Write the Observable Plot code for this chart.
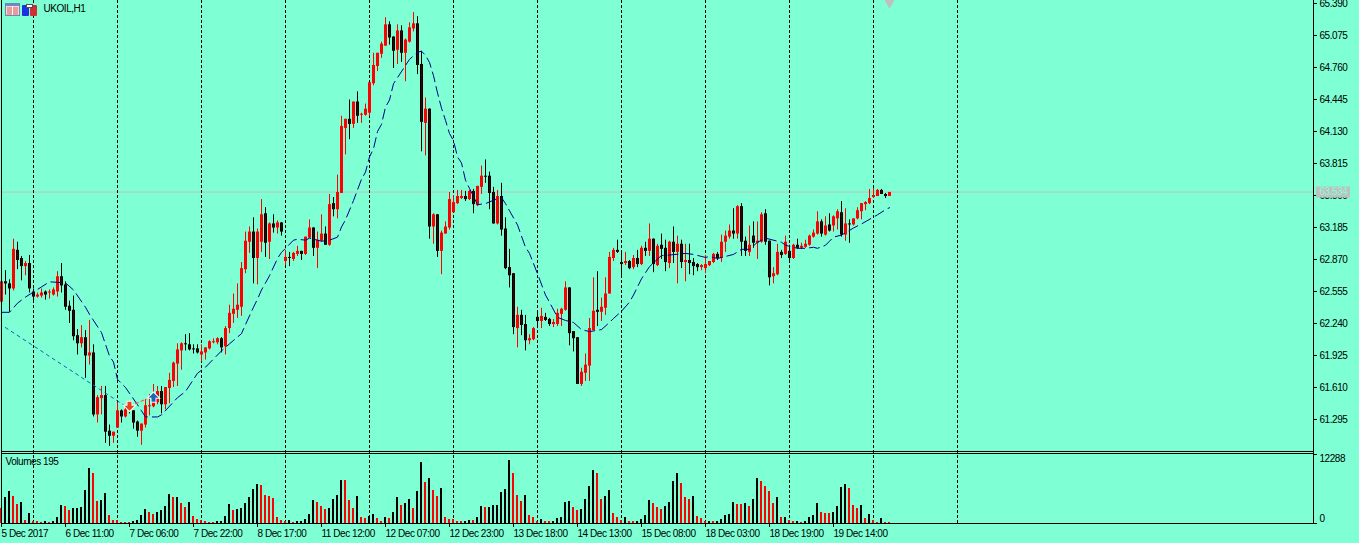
<!DOCTYPE html>
<html>
<head>
<meta charset="utf-8">
<script src="https://cdn.jsdelivr.net/npm/d3@7"></script>
<script src="https://cdn.jsdelivr.net/npm/@observablehq/plot@0.6"></script>
<style>
html,body{margin:0;padding:0;background:#7FFFD4;width:1359px;height:543px;overflow:hidden;position:relative}
svg{display:block}
#icons{position:absolute;left:5px;top:3px}
</style>
</head>
<body>
<div id="chart"></div>
<svg id="icons" width="33" height="13" viewBox="0 0 33 13">
  <rect x="0.5" y="0.5" width="14" height="12" fill="#f4d8d8" stroke="#7088b0"/>
  <rect x="1" y="1" width="13" height="2" fill="#7088c8"/>
  <path d="M2 5h11M2 7h11M2 9h11M2 11h11" stroke="#e06060"/>
  <path d="M7.5 3v9" stroke="#fff"/>
  <rect x="17" y="2" width="7" height="11" rx="1" fill="#2030e0"/>
  <rect x="25" y="2" width="7" height="11" rx="1" fill="#d03030"/>
  <rect x="21.5" y="1.5" width="6" height="3" fill="#fff" stroke="#505050"/>
</svg>
<script>
const opens = [
62.45,62.65,62.63,62.58,62.96,62.88,62.80,62.83,62.55,62.50,
62.51,62.55,62.54,62.52,62.55,62.70,62.62,62.41,62.37,62.12,
62.04,62.10,61.92,61.95,61.34,61.50,61.53,61.18,61.13,61.21,
61.38,61.32,61.39,61.38,61.27,61.18,61.24,61.42,61.42,61.46,
61.57,61.44,61.60,61.67,61.84,61.97,62.04,62.03,61.99,61.99,
61.93,61.95,61.99,62.05,62.05,62.09,62.01,62.19,62.33,62.37,
62.40,62.77,63.04,63.14,62.88,63.04,63.32,63.04,63.22,63.18,
63.23,62.85,62.89,62.87,62.92,62.95,62.92,63.08,63.18,62.98,
63.05,63.12,63.01,63.42,63.36,63.52,64.16,64.25,64.20,64.42,
64.29,64.29,64.31,64.60,64.77,64.89,64.97,65.18,65.06,64.93,
65.12,64.90,65.01,65.14,65.19,64.79,64.21,64.35,63.19,63.31,
62.95,63.12,63.18,63.33,63.42,63.47,63.49,63.46,63.54,63.40,
63.58,63.69,63.69,63.53,63.22,63.49,63.17,62.79,62.73,62.19,
62.32,62.23,62.07,62.08,62.30,62.26,62.30,62.28,62.23,62.23,
62.33,62.37,62.59,62.16,62.10,61.64,61.75,61.82,62.17,62.37,
62.35,62.39,62.53,62.88,62.96,62.84,62.83,62.85,62.79,62.88,
62.82,62.98,62.95,63.07,62.81,63.01,62.98,62.83,63.04,62.94,
63.02,62.84,62.86,62.84,62.82,62.79,62.78,62.81,62.84,62.92,
62.88,63.04,63.09,63.15,63.12,63.39,63.05,62.94,63.10,63.03,
63.04,63.32,63.05,62.70,62.72,62.94,62.92,62.95,62.88,63.01,
62.98,62.99,63.01,63.09,63.12,63.24,63.11,63.21,63.20,63.27,
63.33,63.11,63.22,63.21,63.27,63.34,63.41,63.42,63.48,63.49,
63.55,63.51,63.49];
const highs = [
62.65,62.76,62.67,63.07,63.04,62.90,62.85,62.91,62.58,62.54,
62.58,62.56,62.57,62.59,62.75,62.83,62.65,62.46,62.51,62.18,
62.22,62.17,62.27,62.03,61.53,61.62,61.62,61.24,61.17,61.46,
61.39,61.42,61.40,61.38,61.28,61.25,61.49,61.54,61.64,61.62,
61.62,61.61,61.75,61.86,62.04,62.05,62.13,62.14,62.03,62.03,
62.03,62.00,62.07,62.09,62.10,62.10,62.21,62.42,62.53,62.63,
62.84,63.14,63.19,63.28,63.17,63.46,63.38,63.23,63.31,63.25,
63.23,62.96,62.94,62.94,63.00,62.95,63.09,63.26,63.18,63.14,
63.31,63.19,63.51,63.48,63.70,64.28,64.25,64.44,64.42,64.52,
64.31,64.40,64.61,64.90,64.90,65.01,65.25,65.21,65.06,65.18,
65.17,65.04,65.20,65.30,65.26,64.92,64.46,64.35,63.32,63.31,
63.15,63.24,63.53,63.50,63.55,63.55,63.54,63.55,63.56,63.59,
63.79,63.85,63.73,63.58,63.55,63.62,63.28,62.97,62.73,62.40,
62.37,62.32,62.13,62.20,62.36,62.39,62.34,62.29,62.28,62.38,
62.39,62.65,62.59,62.16,62.10,61.80,61.94,62.29,62.69,62.75,
62.49,62.69,62.94,62.98,63.06,62.95,62.94,62.86,62.91,62.96,
63.00,63.04,63.22,63.07,63.02,63.12,63.06,63.05,63.19,63.10,
63.06,63.02,63.02,62.88,62.83,62.82,62.91,62.85,62.93,62.94,
63.11,63.15,63.21,63.37,63.40,63.42,63.09,63.20,63.24,63.24,
63.33,63.36,63.05,62.79,63.02,62.96,63.10,63.01,63.02,63.07,
63.03,63.06,63.11,63.16,63.34,63.26,63.29,63.32,63.30,63.36,
63.44,63.37,63.26,63.27,63.38,63.42,63.44,63.56,63.57,63.56,
63.56,63.52,63.53];
const lows = [
62.45,62.52,62.35,62.56,62.77,62.66,62.71,62.54,62.45,62.49,
62.49,62.47,62.48,62.51,62.50,62.54,62.37,62.24,62.07,61.93,
62.00,61.70,61.83,61.32,61.26,61.34,61.06,61.03,61.06,61.21,
61.26,61.31,61.35,61.20,61.12,61.04,61.21,61.33,61.41,61.44,
61.35,61.39,61.45,61.61,61.62,61.78,61.97,61.97,61.94,61.94,
61.86,61.88,61.98,62.04,62.03,61.95,61.93,62.14,62.24,62.29,
62.31,62.73,62.93,62.63,62.62,62.94,62.89,62.87,63.13,63.12,
63.10,62.81,62.80,62.85,62.90,62.86,62.91,63.08,62.90,62.78,
63.04,63.01,63.00,63.29,63.27,63.52,63.90,64.05,64.16,64.21,
64.21,64.28,64.28,64.58,64.72,64.85,64.97,64.98,64.75,64.79,
64.81,64.62,65.00,65.11,64.69,63.93,63.89,63.07,63.02,62.89,
62.72,63.12,63.16,63.33,63.41,63.46,63.44,63.45,63.32,63.39,
63.51,63.62,63.36,63.22,63.21,63.10,62.77,62.59,62.13,62.00,
62.12,61.97,62.03,62.07,62.19,62.19,62.26,62.21,62.20,62.21,
62.21,62.36,62.02,61.96,61.64,61.62,61.67,61.67,62.17,62.21,
62.26,62.32,62.53,62.85,62.93,62.70,62.81,62.77,62.77,62.79,
62.81,62.90,62.90,62.74,62.80,62.87,62.75,62.78,62.83,62.63,
62.78,62.65,62.72,62.71,62.75,62.76,62.73,62.80,62.83,62.86,
62.84,62.94,63.07,63.07,63.07,62.90,62.90,62.90,62.98,62.87,
63.03,63.01,62.61,62.63,62.71,62.88,62.91,62.84,62.87,62.97,
62.97,62.98,63.00,63.08,63.11,63.09,63.10,63.14,63.14,63.16,
63.09,63.05,63.03,63.20,63.26,63.26,63.35,63.41,63.47,63.49,
63.51,63.47,63.49];
const closes = [
62.65,62.63,62.58,62.97,62.86,62.80,62.83,62.58,62.50,62.52,
62.54,62.52,62.55,62.57,62.70,62.61,62.40,62.36,62.11,62.04,
62.10,61.92,61.95,61.34,61.51,61.53,61.17,61.13,61.17,61.38,
61.32,61.39,61.38,61.26,61.18,61.25,61.43,61.43,61.47,61.57,
61.44,61.61,61.68,61.85,61.98,62.04,62.03,61.98,61.98,61.95,
61.96,62.00,62.06,62.06,62.09,62.00,62.19,62.34,62.38,62.42,
62.78,63.05,63.14,62.88,63.14,63.31,63.03,63.22,63.18,63.23,
63.14,62.89,62.88,62.93,62.95,62.92,63.09,63.18,62.98,63.06,
63.12,63.01,63.41,63.36,63.53,64.18,64.25,64.20,64.42,64.28,
64.30,64.35,64.61,64.78,64.90,64.99,65.18,65.05,64.92,65.12,
64.90,65.03,65.15,65.19,64.78,64.22,64.35,63.19,63.31,62.95,
63.13,63.19,63.46,63.43,63.49,63.49,63.46,63.54,63.41,63.59,
63.69,63.68,63.52,63.22,63.49,63.16,62.78,62.71,62.20,62.32,
62.22,62.07,62.09,62.19,62.26,62.31,62.27,62.23,62.25,62.34,
62.38,62.59,62.14,62.09,61.64,61.76,61.83,62.19,62.36,62.35,
62.40,62.53,62.89,62.96,62.94,62.82,62.85,62.78,62.88,62.82,
62.98,62.95,63.07,62.82,63.00,62.97,62.84,63.04,62.94,63.02,
62.84,62.86,62.83,62.80,62.79,62.81,62.82,62.85,62.92,62.88,
63.04,63.10,63.15,63.12,63.39,63.04,62.95,63.01,63.03,63.05,
63.31,63.04,62.69,62.73,62.94,62.91,63.04,62.88,63.01,62.98,
63.00,63.02,63.10,63.13,63.24,63.12,63.20,63.15,63.29,63.34,
63.11,63.22,63.21,63.27,63.35,63.42,63.43,63.47,63.50,63.55,
63.51,63.49,63.53];
const volume = [
2925,5070,6240,5265,3705,4095,585,1950,390,380,
195,390,195,390,1170,3510,3315,2535,2925,2935,
3120,6435,10725,9750,4290,4485,5850,1560,585,575,
195,185,175,390,585,1560,2730,2145,1755,2145,
2535,3315,5655,5070,5080,3900,3120,4095,1365,780,
585,390,195,190,390,395,1365,3705,2535,2730,
2925,3900,5070,6630,7605,7410,5460,5265,4875,1170,
585,390,585,195,390,395,780,1755,4485,4095,
3315,2730,2925,4680,5460,8385,8380,4485,2925,5265,
1170,975,1365,1755,975,390,1170,975,2145,5070,
3510,3900,4680,2925,6240,11895,7995,8775,6435,5265,
6825,1170,780,775,390,385,390,585,580,1170,
3315,3120,3125,3510,3515,6045,6630,12288,9750,5460,
4290,5460,1560,1170,390,780,390,385,390,975,
1170,4095,4290,3120,2535,2730,4680,7215,10335,9750,
4680,5265,6435,1950,1170,585,1170,390,385,390,
780,1560,4485,3900,3120,2730,3315,4095,8190,9750,
7800,5070,4680,5265,1365,975,390,395,390,395,
780,1560,1755,4095,3705,3700,3900,3315,4680,8775,
8190,7215,6240,3900,5070,1170,1175,585,390,395,
195,390,1170,1560,3900,2145,1950,1945,2145,3315,
7020,7605,6825,3510,2925,3510,975,1755,585,195,
975,195,195];
const maBar = [0,2,4,6,10,12,16,18,21,22,25,27,28,29,31,34,35,36,39,40,44,46,49,51,55,57,60,61,63,64,65,66,67,69,70,73,74,76,77,80,82,84,85,86,88,90,91,92,93,94,95,96,97,98,99,102,104,105,106,107,108,109,110,111,112,113,114,115,116,117,119,121,124,125,126,127,129,131,132,134,136,137,139,141,143,145,147,150,152,153,155,157,158,160,161,162,165,166,171,173,176,177,179,181,183,185,187,189,191,195,196,199,201,203,204,206,207,208,210,213,215,219,221,222];
const maValue = [62.35,62.35,62.44,62.50,62.60,62.65,62.64,62.57,62.40,62.33,62.15,61.92,61.86,61.69,61.61,61.44,61.38,61.32,61.32,61.34,61.51,61.57,61.75,61.81,61.97,62.04,62.14,62.23,62.40,62.48,62.57,62.64,62.71,62.88,62.94,63.06,63.07,63.06,63.08,63.05,63.06,63.09,63.19,63.26,63.45,63.66,63.73,63.88,63.96,64.13,64.20,64.37,64.44,64.60,64.66,64.84,64.91,64.92,64.88,64.81,64.68,64.51,64.36,64.24,64.11,64.04,63.88,63.82,63.65,63.57,63.41,63.42,63.47,63.48,63.42,63.35,63.21,62.99,62.93,62.73,62.52,62.45,62.30,62.27,62.25,62.18,62.16,62.18,62.25,62.29,62.36,62.45,62.52,62.68,62.74,62.80,62.91,62.91,62.93,62.92,62.89,62.90,62.88,62.90,62.92,62.97,62.97,63.04,63.08,63.04,63.01,62.98,62.98,62.99,62.98,63.01,63.05,63.09,63.11,63.18,63.22,63.31,63.36,63.38];
const gridBars = [8,29,50,71,92,113,134,155,176,197,218,239];
const priceTicks = [65.390,65.075,64.760,64.445,64.130,63.815,63.500,63.185,62.870,62.555,62.240,61.925,61.610,61.295];
const timeBars = [0,16,32,48,64,80,96,112,128,144,160,176,192,208];
const timeLabels = ["5 Dec 2017","6 Dec 11:00","7 Dec 06:00","7 Dec 22:00","8 Dec 17:00","11 Dec 12:00","12 Dec 07:00","12 Dec 23:00","13 Dec 18:00","14 Dec 13:00","15 Dec 08:00","18 Dec 03:00","18 Dec 19:00","19 Dec 14:00"];
const bid = 63.534;
const buyTrend = [{bar:1,price:62.20},{bar:32,price:61.40}];
const sellTrend = [{bar:33.5,price:61.45},{bar:37,price:61.51}];
const sellArrow = [{bar:32,price:61.43}];
const buyArrow = [{bar:38,price:61.51}];
const marker = [{bar:222,price:65.42}];

if ([opens,highs,lows,closes,volume].some(a => a.length !== 223) || maBar.length !== maValue.length) throw new Error("length mismatch " + [opens,highs,lows,closes,volume,maBar,maValue].map(a=>a.length));

const candles = opens.map((o,i) => ({bar:i, open:o, high:highs[i], low:lows[i], close:closes[i]}));
const bulls = candles.filter(d => d.close >= d.open);
const bears = candles.filter(d => d.close < d.open);
const ma = maBar.map((b,i) => ({bar:b, value:maValue[i]}));
const vols = volume.map((v,i) => ({bar:i, v, rising: i>0 && v>volume[i-1]}));

const FONT = "'Liberation Sans', Arial, sans-serif";
const AQUA = "#7FFFD4", RED = "#ff0000", BLACK = "#000000", NAVY = "#00008b", GREY = "#c0c0c0";
const paneStyle = {background:"transparent", fontFamily:FONT, fontSize:"10px", letterSpacing:"-0.45px", color:BLACK};
const xScale = {domain:[0,328], range:[1,1313]};
const dash = {stroke:BLACK, strokeDasharray:"3,2", strokeWidth:1};
const arrow = {
  draw(ctx){
    ctx.moveTo(0,-5); ctx.lineTo(5,0); ctx.lineTo(2,0); ctx.lineTo(2,4);
    ctx.lineTo(-2,4); ctx.lineTo(-2,0); ctx.lineTo(-5,0); ctx.closePath();
  }
};

const pricePane = Plot.plot({
  width:1359, height:452, marginTop:0, marginBottom:0, marginLeft:1, marginRight:46,
  style:paneStyle,
  x:{...xScale, axis:null},
  y:{domain:[60.97,65.4195], range:[452,0], axis:null},
  marks:[
    Plot.ruleY([bid], {x1:0, x2:328, stroke:GREY}),
    Plot.ruleX(gridBars, {x:d=>d, ...dash}),
    Plot.ruleX(bulls, {x:"bar", y1:"low", y2:"high", stroke:RED}),
    Plot.ruleX(bears, {x:"bar", y1:"low", y2:"high", stroke:BLACK}),
    Plot.ruleX(bulls, {x:"bar", y1:"open", y2:"close", stroke:RED, strokeWidth:3}),
    Plot.ruleX(bears, {x:"bar", y1:"open", y2:"close", stroke:BLACK, strokeWidth:3}),
    Plot.ruleX(bears, {x:"bar", y1:"open", y2:"close", stroke:"#3c0000", strokeWidth:1}),
    Plot.line(ma, {x:"bar", y:"value", stroke:NAVY, strokeWidth:1, strokeDasharray:"10,5"}),
    Plot.line(buyTrend, {x:"bar", y:"price", stroke:"#0a64b4", strokeDasharray:"3,4", strokeWidth:1}),
    Plot.line(sellTrend, {x:"bar", y:"price", stroke:"#ff4a1a", strokeDasharray:"3,3", strokeWidth:1}),
    Plot.dot(sellArrow, {x:"bar", y:"price", symbol:arrow, rotate:180, fill:"#e8401c", stroke:"#ffffff", strokeWidth:2, paintOrder:"stroke", r:5}),
    Plot.dot(buyArrow, {x:"bar", y:"price", symbol:arrow, fill:"#1c64b4", stroke:"#ffffff", strokeWidth:2, paintOrder:"stroke", r:5}),
    Plot.dot(marker, {x:"bar", y:"price", symbol:"diamond", fill:GREY, r:5}),
    Plot.ruleX([0,328], {stroke:BLACK}),
    Plot.ruleY([60.98], {x1:0, x2:328, stroke:BLACK}),
    Plot.ruleY(priceTicks, {x1:328, x2:329, stroke:BLACK}),
    Plot.text(priceTicks, {x:()=>329.5, y:d=>d, text:d=>d.toFixed(3), textAnchor:"start", fill:BLACK}),
    Plot.ruleY([bid], {x1:328.75, x2:337.25, stroke:GREY, strokeWidth:11}),
    Plot.text([bid], {x:()=>329.5, y:d=>d, text:d=>d.toFixed(3), textAnchor:"start", fill:AQUA}),
    Plot.text(["UKOIL,H1"], {frameAnchor:"top-left", dx:42, dy:4, text:d=>d, fill:BLACK})
  ]
});

const volTop = [12288], volBottom = [0];
const volPane = Plot.plot({
  width:1359, height:91, marginTop:0, marginBottom:20, marginLeft:1, marginRight:46,
  style:paneStyle,
  x:{...xScale, axis:null},
  y:{domain:[0,13845], range:[71,0], axis:null},
  marks:[
    Plot.ruleX(gridBars, {x:d=>d, y1:0, y2:13845, ...dash}),
    Plot.ruleX(vols.filter(d=>!d.rising), {x:"bar", y1:0, y2:"v", stroke:RED, strokeWidth:2, dx:-0.5}),
    Plot.ruleX(vols.filter(d=>d.rising), {x:"bar", y1:0, y2:"v", stroke:BLACK, strokeWidth:2, dx:-0.5}),
    Plot.ruleX([0,328], {y1:0, y2:13845, stroke:BLACK}),
    Plot.ruleY([0], {x1:0, x2:328, stroke:BLACK}),
    Plot.ruleY([13845], {x1:0, x2:328, stroke:BLACK, dy:1}),
    Plot.ruleY(volTop, {x1:328, x2:329, stroke:BLACK, dy:-6}),
    Plot.ruleY(volBottom, {x1:328, x2:329, stroke:BLACK}),
    Plot.text(volTop, {x:()=>329.5, y:d=>d, text:d=>String(d), textAnchor:"start", fill:BLACK, dy:-2}),
    Plot.text(volBottom, {x:()=>329.5, y:d=>d, text:d=>String(d), textAnchor:"start", fill:BLACK, dy:-5}),
    Plot.text(["Volumes 195"], {frameAnchor:"top-left", dx:4, dy:5, text:d=>d, fill:BLACK}),
    Plot.axisX({anchor:"bottom", ticks:timeBars, tickFormat:d=>timeLabels[timeBars.indexOf(d)], tickSize:4, tickPadding:2, textAnchor:"start", label:null, fill:BLACK, stroke:BLACK})
  ]
});

document.getElementById("chart").append(pricePane, volPane);
</script>
</body>
</html>
